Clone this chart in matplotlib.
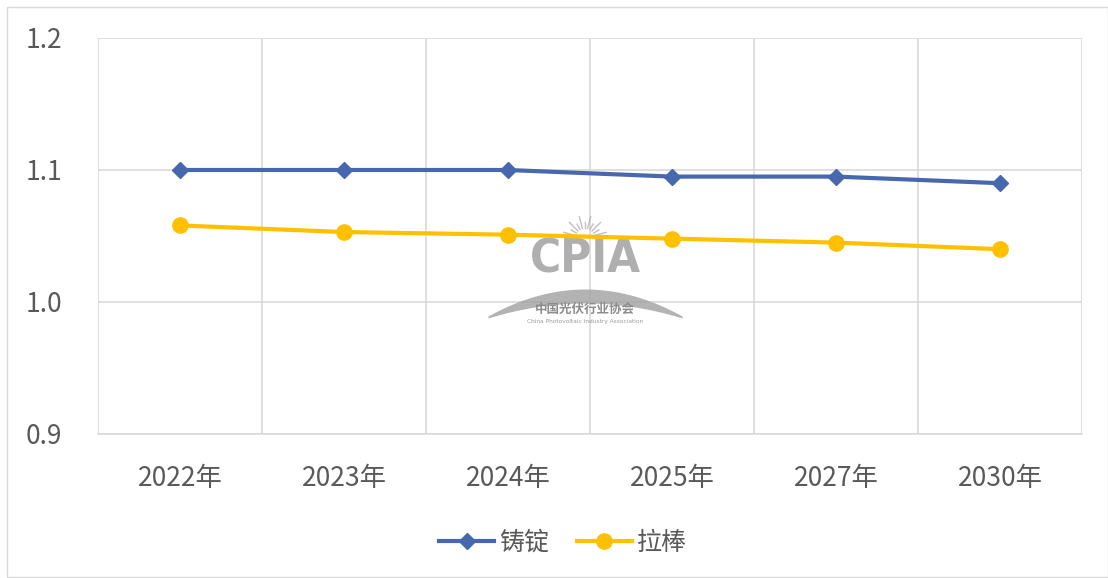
import matplotlib
matplotlib.use("Agg")
import matplotlib.pyplot as plt
import numpy as np
from matplotlib.patches import Rectangle

plt.rcParams["font.family"] = ["Noto Sans CJK SC", "DejaVu Sans"]

years = ["2022年", "2023年", "2024年", "2025年", "2027年", "2030年"]
ingot = [1.100, 1.100, 1.100, 1.095, 1.095, 1.090]   # 铸锭
pulled = [1.058, 1.053, 1.051, 1.048, 1.045, 1.040]  # 拉棒

BLUE, GOLD, GRID, TXT, WM = "#4767AE", "#FFC000", "#D9D9D9", "#595959", "#A6A6A6"
W, H = 1108, 578

fig = plt.figure(figsize=(W / 100, H / 100), dpi=100)
ax = fig.add_axes([98 / W, 1 - 434 / H, (1082 - 98) / W, (434 - 38) / H])

# outer chart frame
fig.patches.append(Rectangle((7 / W, 0.002), 1 - 7 / W, 1 - 7 / H - 0.002,
                             transform=fig.transFigure, fill=False, ec=GRID, lw=1))

x = list(range(len(years)))
ax.plot(x, ingot, color=BLUE, lw=3, marker="D", ms=8, label="铸锭", zorder=5)
ax.plot(x, pulled, color=GOLD, lw=3, marker="o", ms=11, label="拉棒", zorder=5)

ax.set_xlim(-0.5, len(years) - 0.5)
ax.set_ylim(0.9, 1.2)
ax.set_yticks([0.9, 1.0, 1.1, 1.2])
ax.set_yticklabels(["0.9", "1.0", "1.1", "1.2"])
ax.set_xticks(x)
ax.set_xticklabels(years)
ax.set_xticks([i - 0.5 for i in range(len(years) + 1)], minor=True)
ax.grid(axis="y", which="major", color=GRID, lw=1.2)
ax.grid(axis="x", which="minor", color=GRID, lw=1.2)
ax.set_axisbelow(True)
for s in ("top", "right", "left"):
    ax.spines[s].set_visible(False)
ax.spines["bottom"].set_color(GRID)
ax.spines["bottom"].set_linewidth(1.2)
ax.tick_params(axis="both", which="both", length=0, colors=TXT, labelsize=19)
ax.tick_params(axis="x", pad=22)
ax.tick_params(axis="y", pad=52)
for lab in ax.get_yticklabels():
    lab.set_horizontalalignment("left")


# watermark (decoration, placed in pixel-ish axes fractions)
def af(px, py):
    return (px - 98) / 984, (434 - py) / 396


cx, cy = af(585, 260)
ax.text(cx, cy, "CPIA", transform=ax.transAxes, ha="center", va="center", fontsize=34,
        fontweight="bold", fontstretch="condensed", color=WM, alpha=0.9,
        family=["Liberation Sans Narrow", "DejaVu Sans"], zorder=3)
t = np.linspace(-1, 1, 60)
xs = [af(585 + 97 * v, 0)[0] for v in t]
up = [af(0, 316 - 27 * (1 - v * v))[1] for v in t]
lo = [af(0, 318 - 15 * (1 - v * v))[1] for v in t]
ax.fill_between(xs, lo, up, transform=ax.transAxes, color=WM, alpha=0.85, lw=0, zorder=3)
# sun rays
for a in np.linspace(15, 165, 11):
    r0, r1 = 10, (22 if int(a) % 2 else 16)
    x0, y0 = af(585 + r0 * np.cos(np.radians(a)), 238 - r0 * np.sin(np.radians(a)))
    x1, y1 = af(585 + r1 * np.cos(np.radians(a)), 238 - r1 * np.sin(np.radians(a)))
    ax.plot([x0, x1], [y0, y1], transform=ax.transAxes, color=WM, lw=1, alpha=0.7, zorder=3)
tx, ty = af(585, 309)
ax.text(tx, ty, "中国光伏行业协会", transform=ax.transAxes, ha="center", va="center",
        fontsize=9, fontweight="bold", color="#8C8C8C", zorder=3)
ex, ey = af(585, 322)
ax.text(ex, ey, "China Photovoltaic Industry Association", transform=ax.transAxes, ha="center",
        va="center", fontsize=4.2, color="#9A9A9A", family="DejaVu Sans", zorder=3)

fig.legend(loc="center", bbox_to_anchor=(563 / W, 1 - 543 / H), ncol=2, frameon=False,
           fontsize=18, labelcolor=TXT, handlelength=2.2, columnspacing=1.1, handletextpad=0.2)

fig.savefig("out.png", dpi=100, facecolor="white")
